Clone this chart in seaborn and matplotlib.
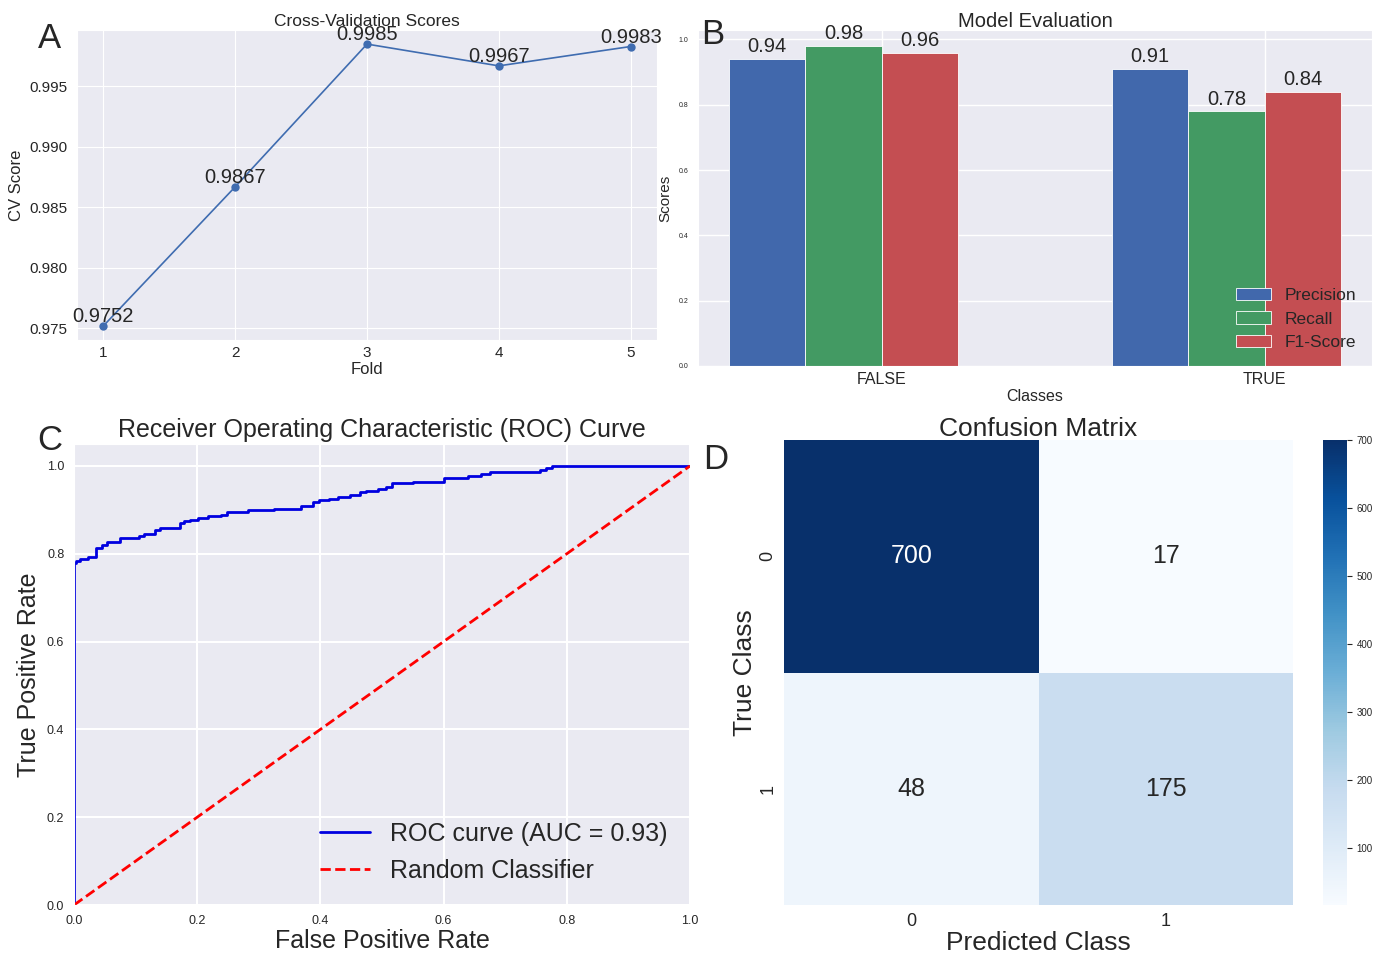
import numpy as np
import pandas as pd
import matplotlib
matplotlib.use("Agg")
import matplotlib.pyplot as plt
import seaborn as sns

# A: cross-validation scores per fold
folds = [1, 2, 3, 4, 5]
cv_scores = [0.9752, 0.9867, 0.9985, 0.9967, 0.9983]

# B: per-class metrics
classes = ["FALSE", "TRUE"]
metrics = ["Precision", "Recall", "F1-Score"]
precision = [0.94, 0.91]
recall = [0.98, 0.78]
f1 = [0.96, 0.84]

# C: ROC curve corners
fpr = [0.0, 0.0, 0.003, 0.010, 0.023, 0.035, 0.046, 0.053, 0.075, 0.106, 0.113,
       0.131, 0.139, 0.172, 0.179, 0.188, 0.202, 0.217, 0.239, 0.249, 0.282,
       0.325, 0.368, 0.388, 0.398, 0.414, 0.428, 0.448, 0.464, 0.474, 0.494,
       0.507, 0.517, 0.550, 0.600, 0.640, 0.660, 0.676, 0.756, 0.766, 0.776, 1.0]
tpr = [0.0, 0.780, 0.783, 0.789, 0.793, 0.814, 0.821, 0.826, 0.836, 0.840, 0.845,
       0.855, 0.858, 0.869, 0.874, 0.878, 0.882, 0.885, 0.889, 0.895, 0.899,
       0.903, 0.908, 0.918, 0.922, 0.925, 0.929, 0.934, 0.940, 0.944, 0.948,
       0.953, 0.961, 0.964, 0.972, 0.977, 0.982, 0.986, 0.991, 0.995, 1.0, 1.0]
auc_value = 0.93

# D: confusion matrix
cm_labels = [0, 1]
cm_row0 = [700, 17]
cm_row1 = [48, 175]

sns.set_style("darkgrid")
plt.rcParams["font.family"] = ["Liberation Sans", "DejaVu Sans"]

W, H = 1380, 958
fig = plt.figure(figsize=(W / 100, H / 100), dpi=100)

def box(l, t, r, b):
    return [l / W, 1 - b / H, (r - l) / W, (b - t) / H]

# ---- A
axA = fig.add_axes(box(77, 30, 657, 340))
sns.lineplot(x=folds, y=cv_scores, marker="o", color="#3F6CB0", lw=1.2,
             markersize=6, markeredgewidth=0, ax=axA)
for f, s in zip(folds, cv_scores):
    axA.text(f, s, f"{s:.4f}", ha="center", va="bottom", fontsize=14.5)
axA.set_xticks(folds)
axA.set_title("Cross-Validation Scores", fontsize=12.5, pad=3)
axA.set_xlabel("Fold", fontsize=12, labelpad=1)
axA.set_ylabel("CV Score", fontsize=12)
axA.tick_params(labelsize=11)
axA.tick_params(axis="x", pad=1)
axA.grid(lw=0.8)

# ---- B
df_b = pd.DataFrame({"Class": classes * 3,
                     "Metric": np.repeat(metrics, len(classes)),
                     "Score": precision + recall + f1})
axB = fig.add_axes(box(698, 30, 1372, 366))
sns.barplot(data=df_b, x="Class", y="Score", hue="Metric", hue_order=metrics,
            palette=["#4168AC", "#439A63", "#C44E52"], width=0.6, saturation=1,
            edgecolor="white", linewidth=0.6, ax=axB)
for cont in axB.containers:
    axB.bar_label(cont, fmt="%.2f", fontsize=14.5, padding=2)
axB.set_xticks([0.1, 1.1], classes)
axB.set_xlim(-0.38, 1.38)
axB.set_ylim(0, 1.029)
axB.set_title("Model Evaluation", fontsize=14.5, pad=2)
axB.set_xlabel("Classes", fontsize=11.5, labelpad=1)
axB.set_ylabel("Scores", fontsize=11)
axB.tick_params(axis="x", labelsize=11.5, pad=1)
axB.tick_params(axis="y", labelsize=5)
h, l = axB.get_legend_handles_labels()
axB.legend(h, l, loc="lower right", fontsize=12.5, frameon=False)
axB.grid(lw=1)

# ---- C
axC = fig.add_axes(box(74, 444, 690, 905))
sns.lineplot(x=fpr, y=tpr, color="#0000E0", lw=2, drawstyle="steps-post",
             sort=False, estimator=None, ax=axC,
             label=f"ROC curve (AUC = {auc_value:.2f})")
sns.lineplot(x=[0, 1], y=[0, 1], color="red", linestyle="--", lw=2, ax=axC,
             label="Random Classifier")
axC.set_xlim(0, 1)
axC.set_ylim(0, 1.05)
axC.set_xticks(np.arange(0, 1.01, 0.2))
axC.set_yticks(np.arange(0, 1.01, 0.2))
axC.set_title("Receiver Operating Characteristic (ROC) Curve", fontsize=18, pad=5)
axC.set_xlabel("False Positive Rate", fontsize=18, labelpad=2)
axC.set_ylabel("True Positive Rate", fontsize=18)
axC.tick_params(labelsize=9)
axC.legend(loc="lower right", fontsize=18, frameon=False)
axC.grid(lw=1.5)

# ---- D
cm = pd.DataFrame([cm_row0, cm_row1], index=cm_labels, columns=cm_labels)
axD = fig.add_axes(box(784, 440, 1293, 905))
cax = fig.add_axes(box(1323, 440, 1347, 905))
sns.heatmap(cm, annot=True, fmt="d", cmap="Blues", ax=axD, cbar_ax=cax,
            annot_kws={"size": 18})
axD.set_title("Confusion Matrix", fontsize=19, pad=3)
axD.set_xlabel("Predicted Class", fontsize=19, labelpad=1)
axD.set_ylabel("True Class", fontsize=19, labelpad=2)
axD.tick_params(labelsize=13, pad=2)
plt.setp(axD.get_yticklabels(), rotation=90, va="center")
cax.tick_params(labelsize=7)
axD.collections[0].colorbar.outline.set_visible(False)

# panel letters
for letter, (x, y) in zip("ABCD", [(50, 38), (713, 35), (50, 440), (716, 460)]):
    fig.text(x / W, 1 - y / H, letter, ha="center", va="center", fontsize=25)

fig.savefig("out.png", dpi=100)
